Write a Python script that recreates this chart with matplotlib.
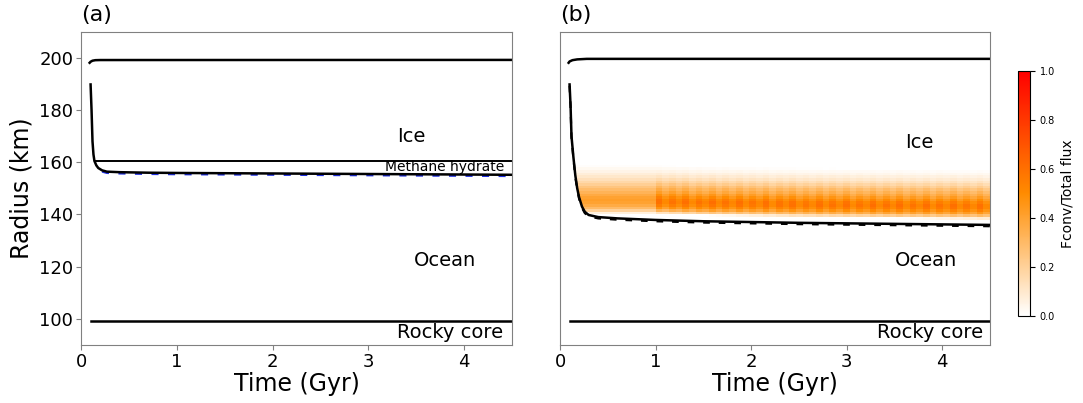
import numpy as np
import matplotlib
matplotlib.use("Agg")
import matplotlib.pyplot as plt
from matplotlib.colors import LinearSegmentedColormap

# ---- data (radius in km, time in Gyr) ----
# panel (a)
time_a = [0.10, 0.11, 0.12, 0.13, 0.14, 0.16, 0.18, 0.22, 0.27, 0.40, 0.70,
          1.0, 1.5, 2.0, 2.5, 3.0, 3.5, 4.0, 4.5]
ice_ocean_a = [189.8, 180.0, 168.0, 163.0, 160.5, 158.8, 157.8, 156.9, 156.4,
               156.2, 156.0, 155.9, 155.8, 155.7, 155.6, 155.5, 155.4, 155.3, 155.2]
surf_time_a = [0.09, 0.10, 0.12, 0.15, 0.20, 4.5]
surface_a = [198.1, 198.5, 198.9, 199.1, 199.15, 199.2]
hydrate_time = [0.15, 4.5]
hydrate_base = [160.6, 160.6]

# panel (b)
time_b = [0.10, 0.11, 0.12, 0.14, 0.16, 0.18, 0.20, 0.23, 0.26, 0.30, 0.40,
          0.60, 1.0, 1.5, 2.0, 2.5, 3.0, 3.5, 4.0, 4.5]
ice_ocean_b = [189.8, 182.0, 170.0, 162.0, 155.0, 150.0, 146.5, 143.0, 141.0,
               139.8, 139.0, 138.5, 137.9, 137.4, 137.1, 136.8, 136.6, 136.4,
               136.2, 136.0]
surf_time_b = [0.09, 0.10, 0.13, 0.18, 0.28, 4.5]
surface_b = [198.1, 198.6, 199.1, 199.4, 199.6, 199.6]

core_time = [0.1, 4.5]
core_radius = [99.1, 99.1]

# convective flux fraction profile (absolute radius at t = 1 Gyr)
band_radius = [140, 141, 142, 143, 144, 145, 146, 147, 148, 149, 150,
               151, 152, 153, 154, 155, 156, 157, 158, 159]
flux_early = [0.0, 0.14, 0.26, 0.34, 0.39, 0.42, 0.42, 0.39, 0.35, 0.31, 0.27,
              0.23, 0.19, 0.15, 0.12, 0.09, 0.06, 0.04, 0.02, 0.0]
flux_late = [0.0, 0.24, 0.42, 0.52, 0.58, 0.61, 0.58, 0.52, 0.46, 0.40, 0.35,
             0.30, 0.24, 0.19, 0.14, 0.10, 0.07, 0.04, 0.02, 0.0]
late_scale = [1.0, 0.86, 0.98, 0.87, 1.0, 0.85, 0.97, 0.88, 1.0, 0.86,
              0.98, 0.87, 1.0, 0.86, 0.97, 0.87, 1.0, 0.85, 0.98, 0.88,
              1.0, 0.86, 0.97, 0.87, 1.0, 0.86, 0.98, 0.87, 1.0, 0.85,
              0.97, 0.88, 1.0, 0.86, 0.98, 0.87, 1.0, 0.86, 0.97, 0.87,
              1.0, 0.85, 0.98, 0.88, 1.0, 0.86, 0.97, 0.87, 1.0, 0.86]

# ---- build the flux field for panel (b) ----
r_edges = np.arange(130.0, 166.0, 1.0)
r_c = 0.5 * (r_edges[:-1] + r_edges[1:])
t_edges = np.concatenate([np.arange(0.1, 1.0, 0.02), np.linspace(1.0, 4.5, len(late_scale) + 1)])
t_c = 0.5 * (t_edges[:-1] + t_edges[1:])
iface_1 = np.interp(1.0, time_b, ice_ocean_b)
field = np.zeros((len(r_c), len(t_c)))
k = 0
for j, t in enumerate(t_c):
    iface = np.interp(t, time_b, ice_ocean_b)
    if t < 1.0:
        col = np.interp(r_c, band_radius, flux_early, left=0, right=0)
    else:
        shift = iface - iface_1
        col = np.interp(r_c - shift, band_radius, flux_late, left=0, right=0) * late_scale[k]
        k += 1
    col[r_c - 0.5 < iface] = 0
    field[:, j] = col
field = np.ma.masked_less_equal(field, 0.005)

cmap = LinearSegmentedColormap.from_list("fconv", ["white", "#ff8c00", "red"])

# ---- figure ----
fig = plt.figure(figsize=(10.83, 4.03), dpi=100)
ax1 = fig.add_axes([0.0748, 0.1439, 0.398, 0.7774])
ax2 = fig.add_axes([0.5171, 0.1439, 0.397, 0.7774])
cax = fig.add_axes([0.9397, 0.216, 0.0114, 0.6079])

lw = 1.8
# (a)
ax1.plot(time_a[7:], np.array(ice_ocean_a[7:]) - 0.45, color="#1f2fe0", lw=1.7,
         ls=(0, (3, 4)), zorder=2)
ax1.plot(time_a, ice_ocean_a, color="black", lw=lw, zorder=3)
ax1.plot(surf_time_a, surface_a, color="black", lw=lw)
ax1.plot(hydrate_time, hydrate_base, color="black", lw=1.4)
ax1.plot(core_time, core_radius, color="black", lw=lw)
ax1.text(3.45, 170, "Ice", fontsize=14, ha="center", va="center")
ax1.text(3.8, 158.3, "Methane hydrate", fontsize=10, ha="center", va="center")
ax1.text(3.8, 122.5, "Ocean", fontsize=14, ha="center", va="center")
ax1.text(3.85, 94.6, "Rocky core", fontsize=14, ha="center", va="center")
ax1.set_ylabel("Radius (km)", fontsize=17)

# (b)
mesh = ax2.pcolormesh(t_edges, r_edges, field, cmap=cmap, vmin=0, vmax=1,
                      shading="flat", zorder=1)
ax2.plot(time_b, np.array(ice_ocean_b) - 0.5, color="black", lw=1.6,
         ls=(0, (3, 4)), zorder=2)
ax2.plot(time_b, ice_ocean_b, color="black", lw=lw, zorder=3)
ax2.plot(surf_time_b, surface_b, color="black", lw=lw)
ax2.plot(core_time, core_radius, color="black", lw=lw)
ax2.text(3.76, 167.6, "Ice", fontsize=14, ha="center", va="center")
ax2.text(3.83, 122.5, "Ocean", fontsize=14, ha="center", va="center")
ax2.text(3.87, 94.6, "Rocky core", fontsize=14, ha="center", va="center")
ax2.tick_params(left=False, labelleft=False)

for ax, lab in [(ax1, "(a)"), (ax2, "(b)")]:
    ax.set_xlim(0, 4.5)
    ax.set_ylim(90, 210)
    ax.set_xticks([0, 1, 2, 3, 4])
    ax.set_xlabel("Time (Gyr)", fontsize=17, labelpad=1)
    ax.tick_params(labelsize=13, color="0.5", pad=2)
    for s in ax.spines.values():
        s.set_color("0.5")
    ax.text(0.0, 1.02, lab, transform=ax.transAxes, fontsize=16,
            ha="left", va="bottom")
ax1.set_yticks([100, 120, 140, 160, 180, 200])

cb = fig.colorbar(mesh, cax=cax)
cb.set_ticks([0, 0.2, 0.4, 0.6, 0.8, 1.0])
cb.ax.tick_params(labelsize=7)
cb.set_label("Fconv/Total flux", fontsize=10)

fig.savefig("out.png", dpi=100)
